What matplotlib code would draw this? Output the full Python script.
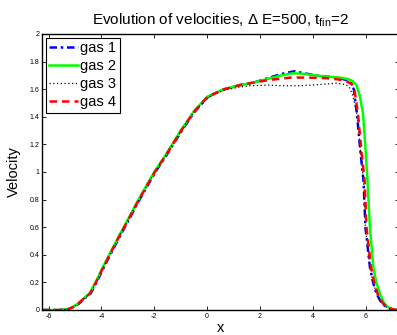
import matplotlib
matplotlib.use("Agg")
import matplotlib.pyplot as plt

plt.rcParams['font.family'] = ['Liberation Sans', 'DejaVu Sans']
plt.rcParams['mathtext.fontset'] = 'custom'
plt.rcParams['mathtext.rm'] = 'Liberation Sans'

# ---- data ----
x_gas2 = [-6.25, -5.6, -5.3, -5.1, -4.9, -4.7, -4.45, -4.2, -4.0, -3.6, -3.3, -3.0, -2.67, -2.3, -2.0,
          -1.55, -1.0, -0.5, 0.0, 0.6, 1.2, 1.8, 2.3, 2.8, 3.25, 3.7, 4.1, 4.6, 5.0, 5.3, 5.5, 5.65,
          5.78, 5.9, 6.0, 6.07, 6.16, 6.29, 6.4, 6.54, 6.7, 6.85, 7.05, 7.25]
v_gas2 = [0, 0, 0.005, 0.02, 0.045, 0.08, 0.12, 0.21, 0.29, 0.44, 0.55, 0.655, 0.775, 0.90, 1.0,
          1.13, 1.30, 1.44, 1.545, 1.597, 1.628, 1.65, 1.675, 1.70, 1.716, 1.71, 1.70, 1.69, 1.685, 1.675, 1.66, 1.63,
          1.55, 1.42, 1.15, 0.935, 0.6, 0.31, 0.2, 0.118, 0.05, 0.02, 0.005, 0]

x_gas1 = [-6.25, -5.6, -5.26, -5.06, -4.86, -4.66, -4.41, -4.16, -3.96, -3.56, -3.26, -2.96, -2.63, -2.26, -1.96,
          -1.51, -0.96, -0.46, 0.04, 0.6, 1.2, 1.8, 2.3, 2.8, 3.3, 3.7, 4.1, 4.6, 5.0, 5.3, 5.45, 5.55,
          5.67, 5.8, 5.92, 5.99, 6.08, 6.16, 6.28, 6.41, 6.6, 6.79, 7.0, 7.25]
v_gas1 = [0, 0, 0.005, 0.02, 0.045, 0.08, 0.12, 0.21, 0.29, 0.44, 0.55, 0.655, 0.775, 0.90, 1.0,
          1.13, 1.30, 1.44, 1.545, 1.597, 1.628, 1.65, 1.68, 1.71, 1.73, 1.715, 1.70, 1.69, 1.68, 1.665, 1.645, 1.6,
          1.42, 1.15, 0.935, 0.6, 0.45, 0.31, 0.2, 0.118, 0.05, 0.02, 0.003, 0]

x_gas3 = [-6.25, -5.6, -5.28, -5.08, -4.88, -4.68, -4.43, -4.18, -3.98, -3.58, -3.28, -2.98, -2.65, -2.28, -1.98,
          -1.53, -0.98, -0.48, 0.02, 0.6, 1.2, 1.6, 2.3, 2.87, 3.5, 4.14, 4.9, 5.27, 5.4, 5.52,
          5.67, 5.8, 5.92, 5.99, 6.08, 6.16, 6.28, 6.41, 6.6, 6.79, 7.0, 7.25]
v_gas3 = [0, 0, 0.005, 0.02, 0.045, 0.08, 0.12, 0.21, 0.29, 0.44, 0.55, 0.655, 0.775, 0.90, 1.0,
          1.13, 1.30, 1.44, 1.54, 1.59, 1.615, 1.625, 1.63, 1.625, 1.625, 1.632, 1.644, 1.632, 1.608, 1.55,
          1.42, 1.15, 0.935, 0.6, 0.45, 0.31, 0.2, 0.118, 0.05, 0.02, 0.003, 0]

x_gas4 = [-6.25, -5.6, -5.28, -5.08, -4.88, -4.68, -4.43, -4.18, -3.98, -3.58, -3.28, -2.98, -2.65, -2.28, -1.98,
          -1.53, -0.98, -0.48, 0.02, 0.6, 1.2, 1.8, 2.4, 3.2, 4.0, 4.5, 5.0, 5.3, 5.48, 5.58,
          5.71, 5.84, 5.96, 6.03, 6.12, 6.2, 6.32, 6.45, 6.64, 6.83, 7.04, 7.25]
v_gas4 = [0, 0, 0.005, 0.02, 0.045, 0.08, 0.12, 0.21, 0.29, 0.44, 0.55, 0.655, 0.775, 0.90, 1.0,
          1.13, 1.30, 1.44, 1.545, 1.597, 1.628, 1.65, 1.668, 1.685, 1.683, 1.68, 1.67, 1.655, 1.635, 1.59,
          1.42, 1.15, 0.935, 0.6, 0.45, 0.31, 0.2, 0.118, 0.05, 0.02, 0.003, 0]

labels = ['gas 1', 'gas 2', 'gas 3', 'gas 4']
x_ticks = [-6, -4, -2, 0, 2, 4, 6]
y_ticks = [0, 0.2, 0.4, 0.6, 0.8, 1, 1.2, 1.4, 1.6, 1.8, 2]

# ---- figure ----
fig = plt.figure(figsize=(3.97, 3.35), dpi=100)
ax = fig.add_axes([42 / 397, 25 / 335, (398.7 - 42) / 397, (310 - 34) / 335])

ax.plot(x_gas1, v_gas1, color='#0000ff', lw=1.8, linestyle=(0, (3, 1.5, 1, 1.5)), label=labels[0])
ax.plot(x_gas2, v_gas2, color='#00ff00', lw=1.8, linestyle='-', label=labels[1])
ax.plot(x_gas3, v_gas3, color='black', lw=0.9, linestyle=(0, (1, 2)), label=labels[2])
ax.plot(x_gas4, v_gas4, color='#ff0000', lw=1.8, linestyle=(0, (3, 2)), label=labels[3])

ax.set_xlim(-6.25, 7.25)
ax.set_ylim(0, 2)
ax.set_xticks(x_ticks)
ax.set_xticklabels([str(t) for t in x_ticks])
ax.set_yticks(y_ticks)
ax.set_yticklabels(['0', '0.2', '0.4', '0.6', '0.8', '1', '1.2', '1.4', '1.6', '1.8', '2'])
ax.tick_params(direction='in', top=True, right=True, length=3, width=0.6, labelsize=5, pad=2)
for s in ax.spines.values():
    s.set_linewidth(1.0)

ax.set_title(r'Evolution of velocities, $\Delta$ E=500, t$_{\mathrm{fin}}$=2', fontsize=11, pad=7)
ax.set_xlabel('x', fontsize=10.5, labelpad=1)
ax.set_ylabel('Velocity', fontsize=10.5, labelpad=6)

leg = ax.legend(loc='upper left', fontsize=10.5, frameon=True, fancybox=False, framealpha=1,
                edgecolor='black', borderpad=0.25, labelspacing=0.27, handlelength=2.0,
                handletextpad=0.1, borderaxespad=0.25)
leg.get_frame().set_linewidth(0.8)

fig.savefig('out.png', dpi=100)
